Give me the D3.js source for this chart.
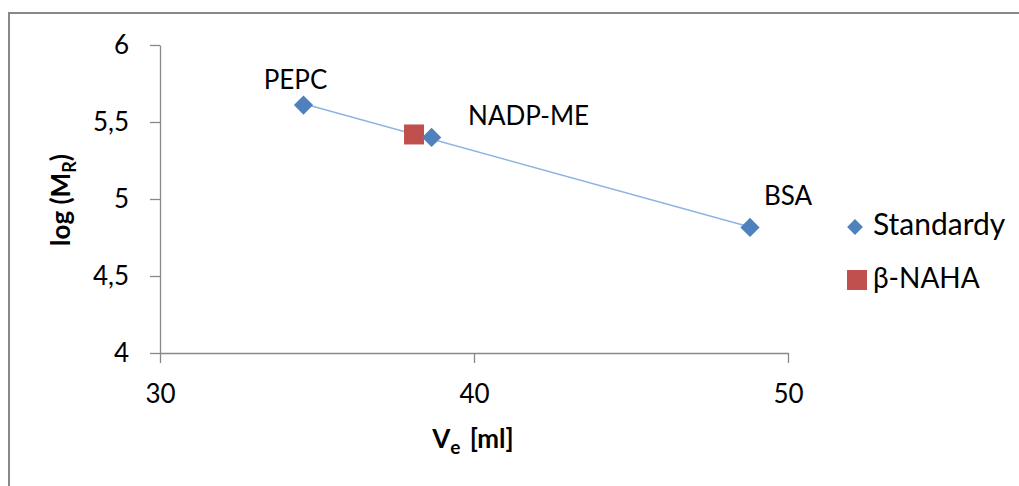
<!DOCTYPE html>
<html><head><meta charset="utf-8">
<script src="https://cdn.jsdelivr.net/npm/d3@7"></script>
<style>
html,body{margin:0;padding:0;background:#fff;}
svg{display:block;font-family:Lato, "Open Sans", sans-serif;}
</style></head>
<body>
<svg id="c" width="1019" height="486"></svg>
<script>
const stdNames = ["PEPC", "NADP-ME", "BSA"];
const stdVe = [34.57, 38.65, 48.79];
const stdLogM = [5.61, 5.40, 4.815];
const sampleName = ["β-NAHA"];
const sampleVe = [38.09];
const sampleLogM = [5.419];
const xTicks = [30, 40, 50];
const yTicks = [4, 4.5, 5, 5.5, 6];
const legendLabels = ["Standardy", "β-NAHA"];

const svg = d3.select("#c");
const blue = "#4F81BD", red = "#C0504D", lineBlue = "#8DB3E2";

svg.append("rect").attr("x",9).attr("y",13).attr("width",1100).attr("height",600)
  .attr("fill","none").attr("stroke","#888").attr("stroke-width",2);

const x = d3.scaleLinear().domain([30,50]).range([160,788]);
const y = d3.scaleLinear().domain([4,6]).range([353,45]);
const fmt = d => String(d).replace(".", ",");

const xa = svg.append("g").attr("transform","translate(0,353)")
  .call(d3.axisBottom(x).tickValues(xTicks).tickSize(10).tickSizeOuter(0).tickPadding(22).tickFormat(fmt));
const ya = svg.append("g").attr("transform","translate(160,0)")
  .call(d3.axisLeft(y).tickValues(yTicks).tickSize(10).tickSizeOuter(0).tickPadding(21).tickFormat(fmt));
[xa,ya].forEach(a=>{
  a.select(".domain").attr("stroke","#888").attr("stroke-width",1.3);
  a.selectAll(".tick line").attr("stroke","#888").attr("stroke-width",1.3);
  a.selectAll(".tick text").attr("fill","#000").style("font-size","26px").style("font-family","Lato");
});

// trendline (least squares of standards)
const mx = d3.mean(stdVe), my = d3.mean(stdLogM);
const slope = d3.sum(stdVe.map((v,i)=>(v-mx)*(stdLogM[i]-my))) / d3.sum(stdVe.map(v=>(v-mx)*(v-mx)));
const icpt = my - slope*mx;
const [x0,x1] = d3.extent(stdVe);
svg.append("line").attr("x1",x(x0)).attr("y1",y(slope*x0+icpt))
  .attr("x2",x(x1)).attr("y2",y(slope*x1+icpt))
  .attr("stroke",lineBlue).attr("stroke-width",1.5);

const diamond = d3.symbol().type(d3.symbolSquare).size(185);
const diamondLg = d3.symbol().type(d3.symbolSquare).size(125);
// sample square
svg.selectAll(".samp").data(sampleVe).enter().append("rect")
  .attr("x",(d)=>x(d)-10).attr("y",(d,i)=>y(sampleLogM[i])-10)
  .attr("width",20).attr("height",20).attr("fill",red);
// standards
svg.selectAll(".std").data(stdVe).enter().append("path")
  .attr("d",diamond)
  .attr("transform",(d,i)=>`translate(${x(d)},${y(stdLogM[i])}) rotate(45)`)
  .attr("fill",blue);

// point labels
const labelOff = [[-8,-16],[97,-12],[38,-22]];
svg.selectAll(".lbl").data(stdNames).enter().append("text")
  .attr("x",(d,i)=>x(stdVe[i])+labelOff[i][0]).attr("y",(d,i)=>y(stdLogM[i])+labelOff[i][1])
  .attr("text-anchor","middle").style("font-size","26px").text(d=>d);

// axis titles
const xt = svg.append("text").attr("x",473).attr("y",448).attr("text-anchor","middle")
  .style("font-size","26px").style("font-weight","bold");
xt.append("tspan").text("V");
xt.append("tspan").attr("dy",6).style("font-size","19px").text("e");
xt.append("tspan").attr("dy",-6).attr("dx",3).text(" [ml]");

const yt = svg.append("text").attr("transform","translate(70,200) rotate(-90)").attr("text-anchor","middle")
  .style("font-size","26px").style("font-weight","bold");
yt.append("tspan").text("log (M");
yt.append("tspan").attr("dy",6).style("font-size","18px").text("R");
yt.append("tspan").attr("dy",-6).text(")");

// legend
const lg = svg.append("g");
lg.append("path").attr("d",diamondLg).attr("transform","translate(855,227) rotate(45)").attr("fill",blue);
lg.append("rect").attr("x",847).attr("y",270).attr("width",20).attr("height",20).attr("fill",red);
lg.selectAll("text").data(legendLabels).enter().append("text")
  .attr("x",873).attr("y",(d,i)=>235+i*53).style("font-size",(d,i)=>i===0?"30px":"28px").text(d=>d);
</script>
</body></html>
